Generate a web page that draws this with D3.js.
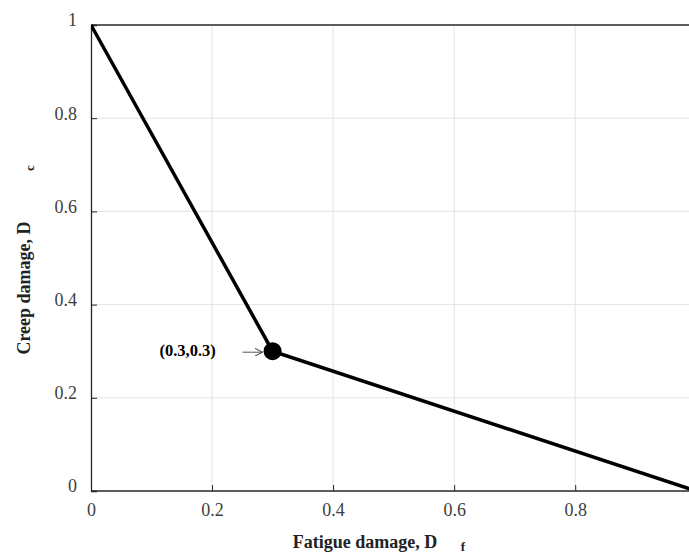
<!DOCTYPE html>
<html><head><meta charset="utf-8">
<script src="https://cdn.jsdelivr.net/npm/d3@7"></script>
<style>body{margin:0;background:#fff}svg{display:block}</style>
</head><body>
<script>
const curveX = [0, 0.3, 1];
const curveY = [1, 0.3, 0];
const pointX = [0.3];
const pointY = [0.3];
const xTicks = [0, 0.2, 0.4, 0.6, 0.8];
const yTicks = [0, 0.2, 0.4, 0.6, 0.8, 1];
const annotText = "(0.3,0.3)";

const W = 689, H = 554;
const svg = d3.select("body").append("svg").attr("width", W).attr("height", H);
const x = d3.scaleLinear().domain([0, 0.988]).range([91, 689]);
const y = d3.scaleLinear().domain([0, 1]).range([491, 25]);
const font = "'Liberation Serif','Times New Roman',serif";

svg.append("defs").append("clipPath").attr("id","clip")
  .append("rect").attr("x",91).attr("y",20).attr("width",598).attr("height",475);

// grid
svg.append("g").selectAll("line.gx").data(xTicks.filter(d=>d>0)).join("line")
  .attr("x1",d=>x(d)).attr("x2",d=>x(d)).attr("y1",y(0)).attr("y2",y(1))
  .attr("stroke","#e3e3e3").attr("stroke-width",1);
svg.append("g").selectAll("line.gy").data(yTicks.filter(d=>d>0&&d<1)).join("line")
  .attr("x1",x(0)).attr("x2",W).attr("y1",d=>y(d)).attr("y2",d=>y(d))
  .attr("stroke","#e3e3e3").attr("stroke-width",1);

// axes
const xAxis = d3.axisBottom(x).tickValues(xTicks).tickSize(-6).tickPadding(12).tickFormat(d3.format("~g"));
const yAxis = d3.axisLeft(y).tickValues(yTicks).tickSize(-6).tickPadding(14).tickFormat(d3.format("~g"));
const gx = svg.append("g").attr("transform",`translate(0,${y(0)})`).call(xAxis);
const gy = svg.append("g").attr("transform",`translate(${x(0)},0)`).call(yAxis);
[gx,gy].forEach(g=>{
  g.select(".domain").attr("stroke","#262626").attr("stroke-width",1.3);
  g.selectAll(".tick line").attr("stroke","#262626").attr("stroke-width",1);
  g.selectAll(".tick text").attr("fill","#404040").attr("font-family",font).attr("font-size",18);
});
gy.selectAll(".tick text").attr("dy","0.05em");
gx.select(".domain").attr("d",`M${x(0)},0H${W}`);
// top border
svg.append("line").attr("x1",x(0)).attr("x2",W).attr("y1",y(1)).attr("y2",y(1))
  .attr("stroke","#262626").attr("stroke-width",1.3);

// curve
const line = d3.line().x(d=>x(d[0])).y(d=>y(d[1]));
svg.append("path").datum(d3.zip(curveX, curveY)).attr("d",line)
  .attr("clip-path","url(#clip)")
  .attr("fill","none").attr("stroke","#000").attr("stroke-width",3.5);

// point
svg.selectAll("circle.pt").data(d3.zip(pointX, pointY)).join("circle")
  .attr("cx",d=>x(d[0])).attr("cy",d=>y(d[1])).attr("r",9).attr("fill","#000");

// annotation arrow
svg.append("defs").append("marker").attr("id","arr").attr("viewBox","0 0 10 10")
  .attr("refX",10).attr("refY",5).attr("markerWidth",8).attr("markerHeight",8).attr("orient","auto")
  .append("path").attr("d","M0,0L10,5L0,10").attr("fill","none").attr("stroke","#333").attr("stroke-width",1.2);
const px = x(pointX[0]), py = y(pointY[0]);
svg.append("line").attr("x1",px-30).attr("x2",px-10).attr("y1",py+1).attr("y2",py+1)
  .attr("stroke","#555").attr("stroke-width",1).attr("marker-end","url(#arr)");
svg.append("text").attr("x",px-85).attr("y",py+5).attr("text-anchor","middle")
  .attr("font-family",font).attr("font-weight","bold").attr("font-size",16.5).attr("fill","#000")
  .text(annotText);

// axis titles
svg.append("text").attr("x",365).attr("y",548).attr("text-anchor","middle")
  .attr("font-family",font).attr("font-weight","bold").attr("font-size",18).attr("fill","#222")
  .text("Fatigue damage, D");
svg.append("text").attr("x",463).attr("y",551).attr("text-anchor","middle")
  .attr("font-family",font).attr("font-weight","bold").attr("font-size",13).attr("fill","#222")
  .text("f");
svg.append("text").attr("transform","translate(30,288) rotate(-90)").attr("text-anchor","middle")
  .attr("font-family",font).attr("font-weight","bold").attr("font-size",18).attr("fill","#222")
  .text("Creep damage, D");
svg.append("text").attr("transform","translate(34,168) rotate(-90)").attr("text-anchor","middle")
  .attr("font-family",font).attr("font-weight","bold").attr("font-size",13).attr("fill","#222")
  .text("c");
</script>
</body></html>
